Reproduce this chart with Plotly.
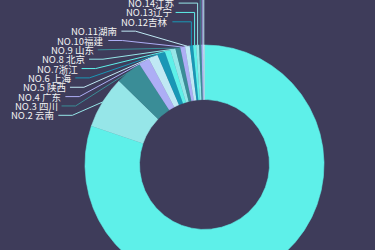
import math
import plotly.graph_objects as go

# ---- data ----
ranks = ["NO.1", "NO.2", "NO.3", "NO.4", "NO.5", "NO.6", "NO.7", "NO.8", "NO.9",
         "NO.10", "NO.11", "NO.12", "NO.13", "NO.14", "NO.15", "NO.16", "NO.17"]
names = ["贵州", " 云南", " 四川", " 广东", " 陕西", " 上海", "浙江", " 北京", " 山东",
         "福建", "湖南", "吉林", "辽宁", "江苏", "河北", "河南", "湖北"]
values = [2888, 255, 127, 52, 46, 38, 28, 25, 24, 23, 23, 16, 15, 14, 11, 8, 7]

palette = ["#5ef0e9", "#96e6e8", "#3a8d97", "#adaef5", "#c0e9f4", "#1997b6"]
BG = "#3e3c5a"
TEXT = "#f2f2f2"

# ---- layout constants (pixels) ----
W, H = 375, 250
CX, CY = 204.5, 164.5
R_OUT, R_IN = 119.5, 65.0
LEN1, LEN2, GAP = 20.0, 14.0, 2.0
LEN2_TOP = 19.0
ELL_B = 153.5          # vertical semi-axis of label ellipse
STACK_Y0, STACK_DY = 115.3, 9.35
N_ELLIPSE = 10          # labels NO.2..NO.11 aligned on ellipse
FS = 9.5

total = float(sum(values))
fig = go.Figure()

def pt(r, ang):
    a = math.radians(ang)
    return CX + r * math.sin(a), CY - r * math.cos(a)

mids = []
acc = 0.0
for i, v in enumerate(values):
    a0 = acc / total * 360.0
    acc += v
    a1 = acc / total * 360.0
    mids.append((a0 + a1) / 2)
    n = max(2, int((a1 - a0) / 0.4) + 2)
    xs, ys = [], []
    for k in range(n):
        x, y = pt(R_OUT, a0 + (a1 - a0) * k / (n - 1))
        xs.append(x); ys.append(y)
    for k in range(n):
        x, y = pt(R_IN, a1 - (a1 - a0) * k / (n - 1))
        xs.append(x); ys.append(y)
    col = palette[i % len(palette)]
    fig.add_trace(go.Scatter(x=xs, y=ys, mode="lines", fill="toself",
                             fillcolor=col, line=dict(color=col, width=0.6),
                             hoverinfo="skip", showlegend=False))

annotations = []
for i, (rk, nm) in enumerate(zip(ranks, names)):
    col = palette[i % len(palette)]
    ex, ey = pt(R_OUT, mids[i])
    if i == 0:
        bx, by = pt(R_OUT + LEN1, mids[i])
        tx = bx + LEN2
        fig.add_trace(go.Scatter(x=[ex, bx, tx], y=[ey, by, by], mode="lines",
                                 line=dict(color=col, width=1), hoverinfo="skip",
                                 showlegend=False))
        annotations.append(dict(x=tx + GAP, y=by, text=rk + " " + nm.strip(),
                                xanchor="left", yanchor="middle", showarrow=False,
                                font=dict(size=FS, color=TEXT)))
        continue
    k = i - 1
    ly = STACK_Y0 - k * STACK_DY
    if k < N_ELLIPSE:
        dy = ly - CY
        a = R_OUT + LEN1
        bx = CX - a * math.sqrt(max(0.0, 1 - (dy / ELL_B) ** 2))
        tx = bx - LEN2
    else:
        bx = ex
        tx = bx - LEN2_TOP
    fig.add_trace(go.Scatter(x=[ex, bx, tx], y=[ey, ly, ly], mode="lines",
                             line=dict(color=col, width=1), hoverinfo="skip",
                             showlegend=False))
    annotations.append(dict(x=tx - GAP, y=ly, text=rk + nm,
                            xanchor="right", yanchor="middle", showarrow=False,
                            font=dict(size=FS, color=TEXT)))

fig.update_layout(
    width=W, height=H, margin=dict(l=0, r=0, t=0, b=0),
    paper_bgcolor=BG, plot_bgcolor=BG,
    font=dict(family="Noto Sans CJK SC, Noto Sans, sans-serif"),
    xaxis=dict(range=[0, W], visible=False, fixedrange=True),
    yaxis=dict(range=[H, 0], visible=False, fixedrange=True),
    annotations=annotations, showlegend=False,
)
fig.write_html("out.html", config={"displayModeBar": False})
